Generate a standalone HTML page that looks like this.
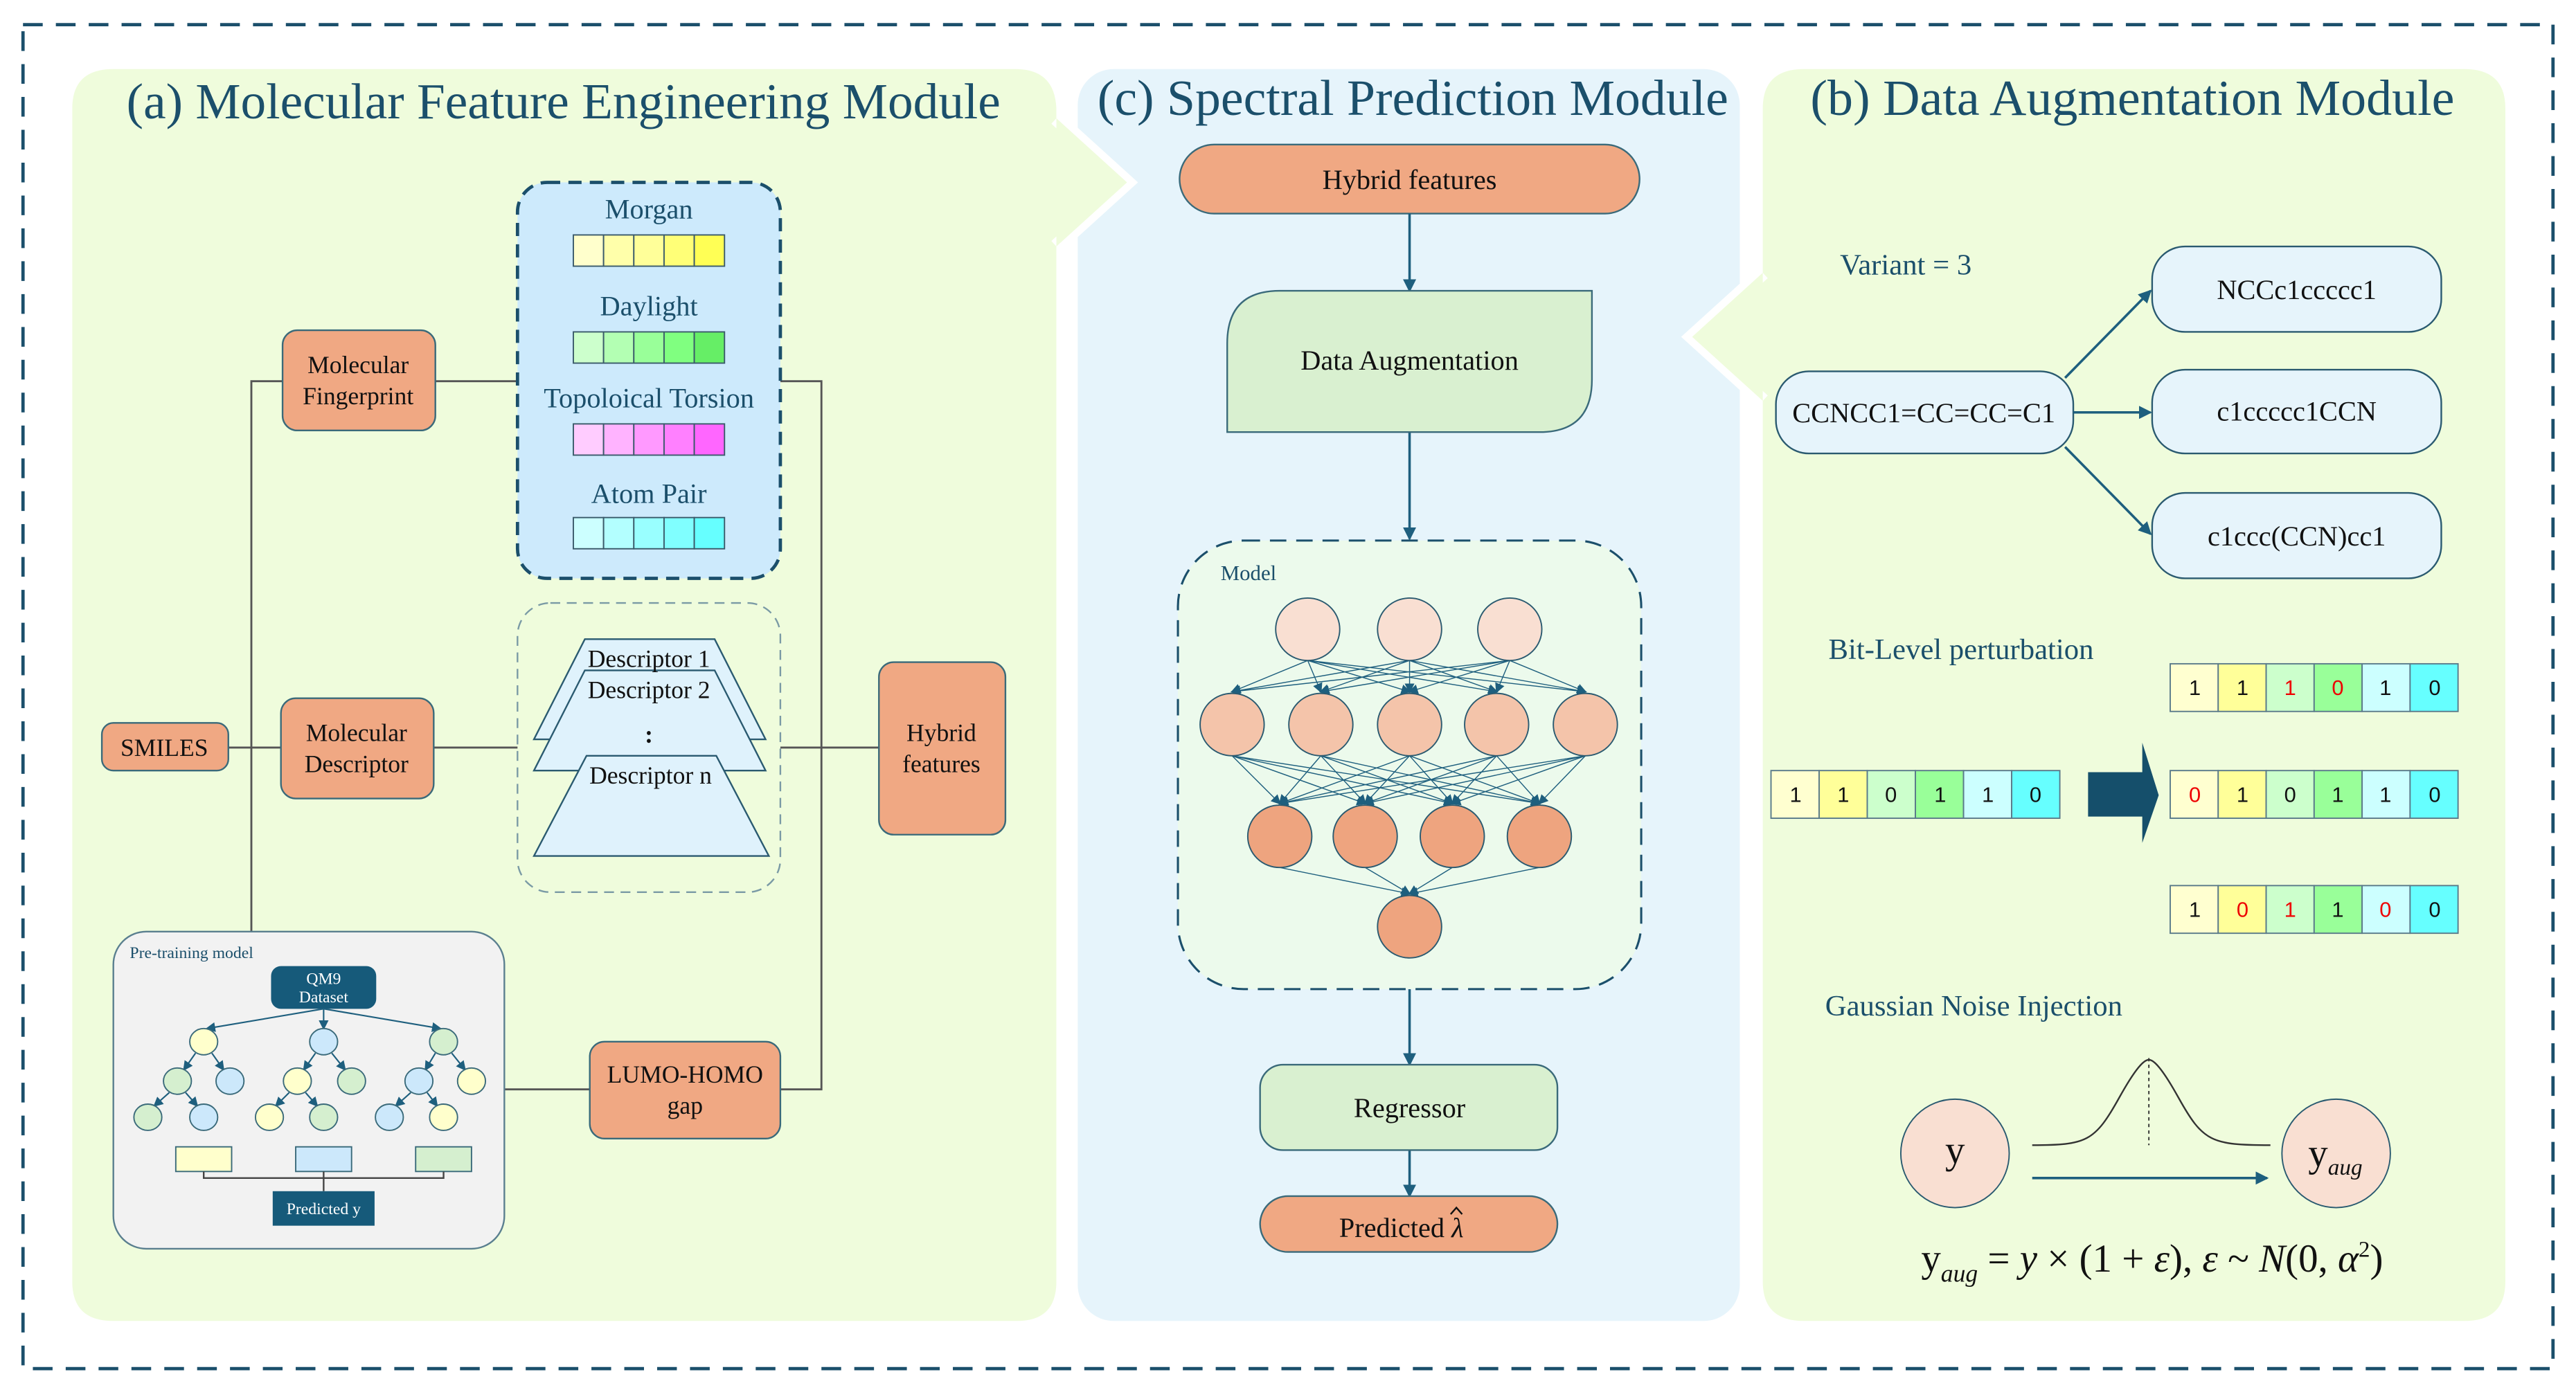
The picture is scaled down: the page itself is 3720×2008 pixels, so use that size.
<!DOCTYPE html>
<html><head><meta charset="utf-8"><style>
html,body{margin:0;padding:0;background:#fff;}
svg{display:block;}
svg text, svg tspan{font-family:"Liberation Serif","Times New Roman",serif;}
.t{fill:#1b4f6b;}
.b{fill:#111;}
svg text.s, svg .s text{font-family:"Liberation Sans",Arial,sans-serif;font-size:13px;}
</style></head><body>
<svg width="3720" height="2008" viewBox="0 0 1568 846" preserveAspectRatio="none" xmlns="http://www.w3.org/2000/svg" font-family="Liberation Serif, serif">
<defs>
<marker id="ar" markerWidth="8" markerHeight="8" refX="7" refY="4" orient="auto" markerUnits="userSpaceOnUse"><path d="M0,0 L8,4 L0,8 z" fill="#1e5f7e"/></marker>
<marker id="as" markerWidth="6" markerHeight="6" refX="5" refY="3" orient="auto" markerUnits="userSpaceOnUse"><path d="M0,0 L6,3 L0,6 z" fill="#1e5f7e"/></marker>
</defs>
<rect x="0" y="0" width="1568" height="846" fill="#fff"/>
<rect x="14" y="15" width="1540" height="818" fill="none" stroke="#1b4f6b" stroke-width="2" stroke-dasharray="12,8"/>

<rect x="656" y="42" width="403" height="762" rx="22" fill="#e6f4fb"/>
<path d="M69,42 H618 Q642,42 643,66 V72 L686,111 L643,150 V780 Q643,804 619,804 H69 Q44,804 44,780 V66 Q44,42 69,42 Z" fill="#effcdc"/>
<path d="M643,72 L686,111 L643,150" fill="none" stroke="#fff" stroke-width="9"/>
<path d="M643,72 L686,111 L643,150 Z" fill="#effcdc"/>
<path d="M1098,42 H1500 Q1525,42 1525,66 V780 Q1525,804 1500,804 H1098 Q1073,804 1073,780 V244 L1030,205 L1073,166 V66 Q1073,42 1098,42 Z" fill="#effcdc"/>
<path d="M1073,166 L1030,205 L1073,244" fill="none" stroke="#fff" stroke-width="9"/>
<path d="M1073,166 L1030,205 L1073,244 Z" fill="#effcdc"/>

<text x="343" y="72" font-size="31" text-anchor="middle" class="t" textLength="532" lengthAdjust="spacingAndGlyphs">(a) Molecular Feature Engineering Module</text>
<text x="860" y="70" font-size="31" text-anchor="middle" class="t" textLength="384" lengthAdjust="spacingAndGlyphs">(c) Spectral Prediction Module</text>
<text x="1298" y="70" font-size="31" text-anchor="middle" class="t" textLength="392" lengthAdjust="spacingAndGlyphs">(b) Data Augmentation Module</text>

<g stroke="#555" stroke-width="1.2" fill="none">
<path d="M153,567 V232 H172"/>
<path d="M139,455 H171"/>
<path d="M265,232 H315"/>
<path d="M475,232 H500 V663 H475"/>
<path d="M264,455 H315"/>
<path d="M475,455 H535"/>
<path d="M307,663 H359"/>
</g>

<rect x="315" y="111" width="160" height="241" rx="18" fill="#cdeafc" stroke="#1b4f6b" stroke-width="2" stroke-dasharray="8,5"/>
<text x="395" y="133" font-size="17" text-anchor="middle" class="t">Morgan</text>
<text x="395" y="192" font-size="17" text-anchor="middle" class="t">Daylight</text>
<text x="395" y="248" font-size="17" text-anchor="middle" class="t">Topoloical Torsion</text>
<text x="395" y="306" font-size="17" text-anchor="middle" class="t">Atom Pair</text>
<g stroke="#3a5a6a" stroke-width="0.8">
<rect x="349" y="143" width="18.4" height="19" fill="#ffffcc"/><rect x="367.4" y="143" width="18.4" height="19" fill="#ffffaa"/><rect x="385.8" y="143" width="18.4" height="19" fill="#ffff99"/><rect x="404.2" y="143" width="18.4" height="19" fill="#ffff77"/><rect x="422.6" y="143" width="18.4" height="19" fill="#ffff55"/>
<rect x="349" y="202" width="18.4" height="19" fill="#ccffcc"/><rect x="367.4" y="202" width="18.4" height="19" fill="#b3ffb3"/><rect x="385.8" y="202" width="18.4" height="19" fill="#99ff99"/><rect x="404.2" y="202" width="18.4" height="19" fill="#80ff80"/><rect x="422.6" y="202" width="18.4" height="19" fill="#66ee66"/>
<rect x="349" y="258" width="18.4" height="19" fill="#ffccff"/><rect x="367.4" y="258" width="18.4" height="19" fill="#ffb3ff"/><rect x="385.8" y="258" width="18.4" height="19" fill="#ff99ff"/><rect x="404.2" y="258" width="18.4" height="19" fill="#ff80ff"/><rect x="422.6" y="258" width="18.4" height="19" fill="#ff66ff"/>
<rect x="349" y="315" width="18.4" height="19" fill="#ccffff"/><rect x="367.4" y="315" width="18.4" height="19" fill="#b3ffff"/><rect x="385.8" y="315" width="18.4" height="19" fill="#99ffff"/><rect x="404.2" y="315" width="18.4" height="19" fill="#80ffff"/><rect x="422.6" y="315" width="18.4" height="19" fill="#66ffff"/>
</g>

<g fill="#f0a883" stroke="#3a6a7a" stroke-width="1">
<rect x="172" y="201" width="93" height="61" rx="9"/>
<rect x="171" y="425" width="93" height="61" rx="9"/>
<rect x="62" y="440" width="77" height="29" rx="7"/>
<rect x="535" y="403" width="77" height="105" rx="9"/>
<rect x="359" y="634" width="116" height="59" rx="9"/>
</g>
<g font-size="15" text-anchor="middle" class="b">
<text x="218" y="227">Molecular</text><text x="218" y="246">Fingerprint</text>
<text x="217" y="451">Molecular</text><text x="217" y="470">Descriptor</text>
<text x="100" y="460">SMILES</text>
<text x="573" y="451">Hybrid</text><text x="573" y="470">features</text>
<text x="417" y="659">LUMO-HOMO</text><text x="417" y="678">gap</text>
</g>

<rect x="315" y="367" width="160" height="176" rx="20" fill="none" stroke="#7a9aa5" stroke-width="1" stroke-dasharray="6,4"/>
<g fill="#dff2fc" stroke="#2a5a70" stroke-width="1">
<path d="M356,389 H435 L466,450 H325 Z"/>
<path d="M356,408 H435 L466,469 H325 Z"/>
<path d="M357,460 H436 L468,521 H325 Z"/>
</g>
<g font-size="15" text-anchor="middle" class="b">
<text x="395" y="406">Descriptor 1</text>
<text x="395" y="425">Descriptor 2</text>
<text x="395" y="452" font-weight="bold">:</text>
<text x="396" y="477">Descriptor n</text>
</g>

<rect x="69" y="567" width="238" height="193" rx="20" fill="#f2f2f2" stroke="#5a7f8f" stroke-width="1"/>
<text x="79" y="583" font-size="10" class="t">Pre-training model</text>
<rect x="165" y="588" width="64" height="26" rx="6" fill="#165a7a"/>
<text x="197" y="599" font-size="10" fill="#fff" text-anchor="middle">QM9</text>
<text x="197" y="610" font-size="10" fill="#fff" text-anchor="middle">Dataset</text>
<g stroke="#1e5f7e" stroke-width="0.9" marker-end="url(#as)">
<line x1="197" y1="614" x2="126" y2="626"/><line x1="197" y1="614" x2="197" y2="626"/><line x1="197" y1="614" x2="268" y2="626"/>
<line x1="119" y1="641" x2="112" y2="651"/><line x1="129" y1="641" x2="136" y2="651"/>
<line x1="192" y1="641" x2="185" y2="651"/><line x1="202" y1="641" x2="210" y2="651"/>
<line x1="265" y1="641" x2="259" y2="651"/><line x1="275" y1="641" x2="283" y2="651"/>
<line x1="103" y1="665" x2="94" y2="673"/><line x1="113" y1="665" x2="120" y2="673"/>
<line x1="176" y1="665" x2="168" y2="673"/><line x1="186" y1="665" x2="193" y2="673"/>
<line x1="250" y1="665" x2="241" y2="673"/><line x1="260" y1="665" x2="266" y2="673"/>
</g>
<g stroke="#3a6a7a" stroke-width="0.8">
<ellipse cx="124" cy="634" rx="8.5" ry="8" fill="#ffffcc"/><ellipse cx="197" cy="634" rx="8.5" ry="8" fill="#cce8fb"/><ellipse cx="270" cy="634" rx="8.5" ry="8" fill="#d5efcf"/>
<ellipse cx="108" cy="658" rx="8.5" ry="8" fill="#d5efcf"/><ellipse cx="140" cy="658" rx="8.5" ry="8" fill="#cce8fb"/><ellipse cx="181" cy="658" rx="8.5" ry="8" fill="#ffffcc"/><ellipse cx="214" cy="658" rx="8.5" ry="8" fill="#d5efcf"/><ellipse cx="255" cy="658" rx="8.5" ry="8" fill="#cce8fb"/><ellipse cx="287" cy="658" rx="8.5" ry="8" fill="#ffffcc"/>
<ellipse cx="90" cy="680" rx="8.5" ry="8" fill="#d5efcf"/><ellipse cx="124" cy="680" rx="8.5" ry="8" fill="#cce8fb"/><ellipse cx="164" cy="680" rx="8.5" ry="8" fill="#ffffcc"/><ellipse cx="197" cy="680" rx="8.5" ry="8" fill="#d5efcf"/><ellipse cx="237" cy="680" rx="8.5" ry="8" fill="#cce8fb"/><ellipse cx="270" cy="680" rx="8.5" ry="8" fill="#ffffcc"/>
<rect x="107" y="698" width="34" height="15" fill="#ffffcc"/><rect x="180" y="698" width="34" height="15" fill="#cce8fb"/><rect x="253" y="698" width="34" height="15" fill="#d5efcf"/>
</g>
<path d="M124,713 V717 H270 V713 M197,713 V725" fill="none" stroke="#444" stroke-width="1"/>
<rect x="166" y="725" width="62" height="21" fill="#165a7a"/>
<text x="197" y="739" font-size="10" fill="#fff" text-anchor="middle">Predicted y</text>

<rect x="718" y="88" width="280" height="42" rx="21" fill="#f0a883" stroke="#3a6a7a" stroke-width="1"/>
<text x="858" y="115" font-size="17" text-anchor="middle" class="b">Hybrid features</text>
<g stroke="#1e5f7e" stroke-width="1.5" marker-end="url(#ar)">
<line x1="858" y1="130" x2="858" y2="177"/>
<line x1="858" y1="263" x2="858" y2="328"/>
<line x1="858" y1="602" x2="858" y2="648"/>
<line x1="858" y1="700" x2="858" y2="728"/>
</g>
<path d="M779,177 H969 V231 Q969,263 937,263 H747 V209 Q747,177 779,177 Z" fill="#d9f0d0" stroke="#3a6a7a" stroke-width="1"/>
<text x="858" y="225" font-size="17" text-anchor="middle" class="b">Data Augmentation</text>
<rect x="717" y="329" width="282" height="273" rx="40" fill="#ecfaec" stroke="#1b4f6b" stroke-width="1.3" stroke-dasharray="10,6"/>
<text x="743" y="353" font-size="13" class="t">Model</text>
<g stroke="#1e5f7e" stroke-width="0.6" marker-end="url(#as)">
<line x1="796" y1="402" x2="750" y2="421"/><line x1="796" y1="402" x2="804" y2="421"/><line x1="796" y1="402" x2="858" y2="421"/><line x1="796" y1="402" x2="911" y2="421"/><line x1="796" y1="402" x2="965" y2="421"/>
<line x1="858" y1="402" x2="750" y2="421"/><line x1="858" y1="402" x2="804" y2="421"/><line x1="858" y1="402" x2="858" y2="421"/><line x1="858" y1="402" x2="911" y2="421"/><line x1="858" y1="402" x2="965" y2="421"/>
<line x1="919" y1="402" x2="750" y2="421"/><line x1="919" y1="402" x2="804" y2="421"/><line x1="919" y1="402" x2="858" y2="421"/><line x1="919" y1="402" x2="911" y2="421"/><line x1="919" y1="402" x2="965" y2="421"/>
<line x1="750" y1="460" x2="779" y2="489"/><line x1="750" y1="460" x2="831" y2="489"/><line x1="750" y1="460" x2="884" y2="489"/><line x1="750" y1="460" x2="937" y2="489"/>
<line x1="804" y1="460" x2="779" y2="489"/><line x1="804" y1="460" x2="831" y2="489"/><line x1="804" y1="460" x2="884" y2="489"/><line x1="804" y1="460" x2="937" y2="489"/>
<line x1="858" y1="460" x2="779" y2="489"/><line x1="858" y1="460" x2="831" y2="489"/><line x1="858" y1="460" x2="884" y2="489"/><line x1="858" y1="460" x2="937" y2="489"/>
<line x1="911" y1="460" x2="779" y2="489"/><line x1="911" y1="460" x2="831" y2="489"/><line x1="911" y1="460" x2="884" y2="489"/><line x1="911" y1="460" x2="937" y2="489"/>
<line x1="965" y1="460" x2="779" y2="489"/><line x1="965" y1="460" x2="831" y2="489"/><line x1="965" y1="460" x2="884" y2="489"/><line x1="965" y1="460" x2="937" y2="489"/>
<line x1="779" y1="528" x2="858" y2="544"/><line x1="831" y1="528" x2="858" y2="544"/><line x1="884" y1="528" x2="858" y2="544"/><line x1="937" y1="528" x2="858" y2="544"/>
</g>
<g stroke="#2a5a70" stroke-width="0.8">
<ellipse cx="796" cy="383" rx="19.5" ry="19" fill="#f9dfd2"/><ellipse cx="858" cy="383" rx="19.5" ry="19" fill="#f9dfd2"/><ellipse cx="919" cy="383" rx="19.5" ry="19" fill="#f9dfd2"/>
<ellipse cx="750" cy="441" rx="19.5" ry="19" fill="#f4c4aa"/><ellipse cx="804" cy="441" rx="19.5" ry="19" fill="#f4c4aa"/><ellipse cx="858" cy="441" rx="19.5" ry="19" fill="#f4c4aa"/><ellipse cx="911" cy="441" rx="19.5" ry="19" fill="#f4c4aa"/><ellipse cx="965" cy="441" rx="19.5" ry="19" fill="#f4c4aa"/>
<ellipse cx="779" cy="509" rx="19.5" ry="19" fill="#eea47f"/><ellipse cx="831" cy="509" rx="19.5" ry="19" fill="#eea47f"/><ellipse cx="884" cy="509" rx="19.5" ry="19" fill="#eea47f"/><ellipse cx="937" cy="509" rx="19.5" ry="19" fill="#eea47f"/>
<ellipse cx="858" cy="564" rx="19.5" ry="19" fill="#eea47f"/>
</g>
<rect x="767" y="648" width="181" height="52" rx="14" fill="#d9f0d0" stroke="#3a6a7a" stroke-width="1"/>
<text x="858" y="680" font-size="17" text-anchor="middle" class="b">Regressor</text>
<rect x="767" y="728" width="181" height="34" rx="17" fill="#f0a883" stroke="#3a6a7a" stroke-width="1"/>
<text x="853" y="753" font-size="17" text-anchor="middle" class="b">Predicted <tspan font-style="italic">λ</tspan></text>
<path d="M883,739 L886.5,735 L890,739" fill="none" stroke="#111" stroke-width="1"/>

<text x="1120" y="167" font-size="18" class="t">Variant = 3</text>
<g fill="#e6f4fb" stroke="#2a5a70" stroke-width="1">
<rect x="1081" y="226" width="181" height="50" rx="20"/>
<rect x="1310" y="150" width="176" height="52" rx="20"/>
<rect x="1310" y="225" width="176" height="51" rx="20"/>
<rect x="1310" y="300" width="176" height="52" rx="20"/>
</g>
<g font-size="17" text-anchor="middle" class="b">
<text x="1171" y="257">CCNCC1=CC=CC=C1</text>
<text x="1398" y="182">NCCc1ccccc1</text>
<text x="1398" y="256">c1ccccc1CCN</text>
<text x="1398" y="332">c1ccc(CCN)cc1</text>
</g>
<g stroke="#1e5f7e" stroke-width="1.5" marker-end="url(#ar)">
<line x1="1257" y1="230" x2="1309" y2="177"/>
<line x1="1262" y1="251" x2="1309" y2="251"/>
<line x1="1257" y1="272" x2="1309" y2="325"/>
</g>
<text x="1113" y="401" font-size="18" class="t">Bit-Level perturbation</text>

<g stroke="#5a7a8a" stroke-width="0.8">
<rect x="1078" y="469" width="29.3" height="29" fill="#ffffd0"/><rect x="1107.3" y="469" width="29.3" height="29" fill="#ffff99"/><rect x="1136.6" y="469" width="29.3" height="29" fill="#ccffcc"/><rect x="1165.9" y="469" width="29.3" height="29" fill="#99ff99"/><rect x="1195.2" y="469" width="29.3" height="29" fill="#ccffff"/><rect x="1224.5" y="469" width="29.3" height="29" fill="#66ffff"/>
<rect x="1321" y="404" width="29.2" height="29" fill="#ffffd0"/><rect x="1350.2" y="404" width="29.2" height="29" fill="#ffff99"/><rect x="1379.4" y="404" width="29.2" height="29" fill="#ccffcc"/><rect x="1408.6" y="404" width="29.2" height="29" fill="#99ff99"/><rect x="1437.8" y="404" width="29.2" height="29" fill="#ccffff"/><rect x="1467" y="404" width="29.2" height="29" fill="#66ffff"/>
<rect x="1321" y="469" width="29.2" height="29" fill="#ffffd0"/><rect x="1350.2" y="469" width="29.2" height="29" fill="#ffff99"/><rect x="1379.4" y="469" width="29.2" height="29" fill="#ccffcc"/><rect x="1408.6" y="469" width="29.2" height="29" fill="#99ff99"/><rect x="1437.8" y="469" width="29.2" height="29" fill="#ccffff"/><rect x="1467" y="469" width="29.2" height="29" fill="#66ffff"/>
<rect x="1321" y="539" width="29.2" height="29" fill="#ffffd0"/><rect x="1350.2" y="539" width="29.2" height="29" fill="#ffff99"/><rect x="1379.4" y="539" width="29.2" height="29" fill="#ccffcc"/><rect x="1408.6" y="539" width="29.2" height="29" fill="#99ff99"/><rect x="1437.8" y="539" width="29.2" height="29" fill="#ccffff"/><rect x="1467" y="539" width="29.2" height="29" fill="#66ffff"/>
</g>
<g class="s" text-anchor="middle" fill="#111">
<text x="1093" y="488">1</text><text x="1122" y="488">1</text><text x="1151" y="488">0</text><text x="1181" y="488">1</text><text x="1210" y="488">1</text><text x="1239" y="488">0</text>
<text x="1336" y="423">1</text><text x="1365" y="423">1</text><text x="1394" y="423" fill="#e00">1</text><text x="1423" y="423" fill="#e00">0</text><text x="1452" y="423">1</text><text x="1482" y="423">0</text>
<text x="1336" y="488" fill="#e00">0</text><text x="1365" y="488">1</text><text x="1394" y="488">0</text><text x="1423" y="488">1</text><text x="1452" y="488">1</text><text x="1482" y="488">0</text>
<text x="1336" y="558">1</text><text x="1365" y="558" fill="#e00">0</text><text x="1394" y="558" fill="#e00">1</text><text x="1423" y="558">1</text><text x="1452" y="558" fill="#e00">0</text><text x="1482" y="558">0</text>
</g>
<path d="M1271,470 H1304 V452 L1314,484 L1304,513 V497 H1271 Z" fill="#154f6b"/>

<text x="1111" y="618" font-size="18" class="t">Gaussian Noise Injection</text>
<circle cx="1190" cy="702" r="33" fill="#f9dfd2" stroke="#2a5a70" stroke-width="0.8"/>
<circle cx="1422" cy="702" r="33" fill="#f9dfd2" stroke="#2a5a70" stroke-width="0.8"/>
<text x="1190" y="708" font-size="24" text-anchor="middle" class="b">y</text>
<text x="1405" y="710" font-size="24" class="b">y<tspan font-size="14" font-style="italic" dy="5">aug</tspan></text>
<path d="M1237,697 C1270,697 1275,695 1290,668 C1300,650 1305,645 1308,645 C1311,645 1316,650 1326,668 C1341,695 1346,697 1382,697" fill="none" stroke="#333" stroke-width="1"/>
<line x1="1308" y1="644" x2="1308" y2="697" stroke="#333" stroke-width="0.8" stroke-dasharray="2,2"/>
<line x1="1237" y1="717" x2="1380" y2="717" stroke="#1e5f7e" stroke-width="1.5" marker-end="url(#ar)"/>
<text x="1310" y="774" font-size="24" text-anchor="middle" class="b">y<tspan font-size="15" font-style="italic" dy="6">aug</tspan><tspan dy="-6"> = </tspan><tspan font-style="italic">y</tspan> × (1 + <tspan font-style="italic">ε</tspan>), <tspan font-style="italic">ε</tspan> ~ <tspan font-style="italic">N</tspan>(0, <tspan font-style="italic">α</tspan><tspan font-size="14" dy="-9">2</tspan><tspan dy="9">)</tspan></text>
</svg>
</body></html>
